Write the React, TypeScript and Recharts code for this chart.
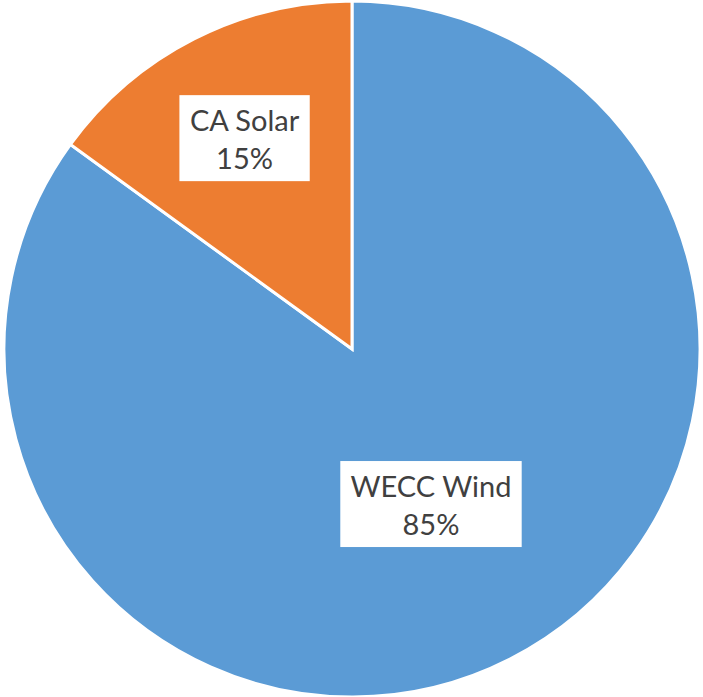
import { PieChart, Pie, Cell } from "recharts";

const names = ["WECC Wind", "CA Solar"];
const shares = [85, 15];
const colors = ["#5B9BD5", "#ED7D31"];

const data = names.map((name, i) => ({ name, value: shares[i] }));

const RAD = Math.PI / 180;
const FONT = "Lato, 'Open Sans', sans-serif";
const FONT_SIZE = 29;

// how far along the radius each label box sits (Excel "best fit" placement)
const labelDist: Record<string, number> = { "WECC Wind": 0.5, "CA Solar": 0.68 };

let ctx: CanvasRenderingContext2D | null = null;
function textWidth(s: string) {
  if (!ctx) ctx = document.createElement("canvas").getContext("2d");
  if (!ctx) return s.length * FONT_SIZE * 0.5;
  ctx.font = `${FONT_SIZE}px Lato`;
  return ctx.measureText(s).width;
}

function renderLabel(props: any) {
  const { cx, cy, midAngle, outerRadius, name, percent } = props;
  const r = outerRadius * (labelDist[name] ?? 0.6);
  const x = cx + r * Math.cos(-midAngle * RAD);
  const y = cy + r * Math.sin(-midAngle * RAD);
  const pct = `${Math.round(percent * 100)}%`;
  const w = Math.max(textWidth(name), textWidth(pct)) + 20;
  const h = 86;
  return (
    <g>
      <rect x={x - w / 2} y={y - h / 2} width={w} height={h} fill="#ffffff" />
      <text x={x} y={y - 7} textAnchor="middle" fill="#404040" fontSize={FONT_SIZE} fontFamily={FONT}>
        {name}
      </text>
      <text x={x} y={y + 31} textAnchor="middle" fill="#404040" fontSize={FONT_SIZE} fontFamily={FONT}>
        {pct}
      </text>
    </g>
  );
}

export default function App() {
  return (
    <div style={{ position: "absolute", left: 0, top: 0, width: 703, height: 697, background: "#fff" }}>
      <PieChart width={703} height={697} margin={{ top: 0, right: 0, bottom: 0, left: 0 }}>
        <Pie
          data={data}
          dataKey="value"
          nameKey="name"
          cx={352}
          cy={349}
          outerRadius={348}
          startAngle={90}
          endAngle={-270}
          stroke="#ffffff"
          strokeWidth={3}
          label={renderLabel}
          labelLine={false}
          isAnimationActive={false}
        >
          {data.map((d, i) => (
            <Cell key={d.name} fill={colors[i]} />
          ))}
        </Pie>
      </PieChart>
    </div>
  );
}
